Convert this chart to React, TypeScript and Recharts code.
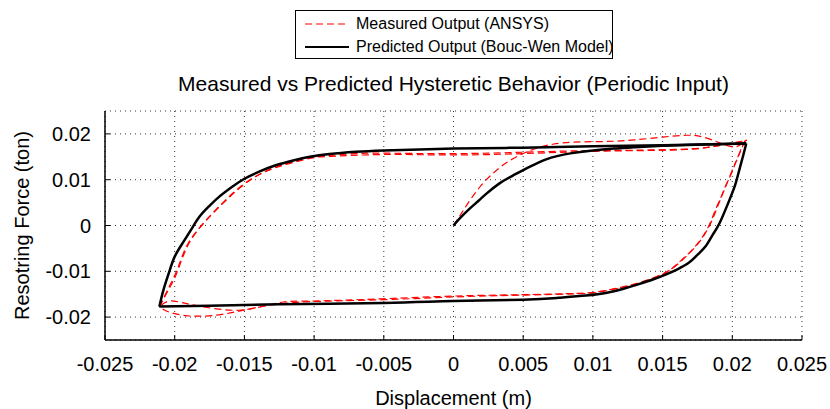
import React from 'react';
import { LineChart, Line, XAxis, YAxis, CartesianGrid, Legend } from 'recharts';

// ticks and labels
const xTicks = [-0.025, -0.02, -0.015, -0.01, -0.005, 0, 0.005, 0.01, 0.015, 0.02, 0.025];
const yTicks = [-0.02, -0.01, 0, 0.01, 0.02];
const chartTitle = 'Measured vs Predicted Hysteretic Behavior (Periodic Input)';
const xLabel = 'Displacement (m)';
const yLabel = 'Resotring Force (ton)';
const measuredName = 'Measured Output (ANSYS)';
const predictedName = 'Predicted Output (Bouc-Wen Model)';

// Predicted (Bouc-Wen) branches, [displacement, force]
const predictedLoading = [
  [0, 0], [0.0005, 0.0017], [0.0012, 0.0038], [0.0018, 0.0054], [0.0023, 0.0068], [0.0033, 0.0092],
  [0.0042, 0.0108], [0.005, 0.0121], [0.0058, 0.0133], [0.0066, 0.0144], [0.0075, 0.0152],
  [0.0085, 0.0158], [0.01, 0.0164], [0.0115, 0.0168], [0.013, 0.0171], [0.015, 0.0174],
  [0.018, 0.0177], [0.021, 0.0179],
];
const predictedUnloading = [
  [0.021, 0.0179], [0.0208, 0.0155], [0.0205, 0.0121], [0.0202, 0.0088], [0.0198, 0.0056],
  [0.0191, 0.0006], [0.0186, -0.002], [0.0181, -0.0045], [0.0175, -0.0064], [0.0169, -0.0081],
  [0.0161, -0.0095], [0.0153, -0.0106], [0.0143, -0.0118], [0.0133, -0.0128], [0.0122, -0.0138],
  [0.011, -0.0147], [0.0095, -0.0153], [0.0075, -0.0158], [0.005, -0.0162], [0, -0.0165],
  [-0.005, -0.0169], [-0.0125, -0.0172], [-0.0175, -0.0175], [-0.0211, -0.0177],
];
const predictedReloading = [
  [-0.0211, -0.0177], [-0.0208, -0.014], [-0.0204, -0.0102], [-0.02, -0.0068], [-0.0194, -0.0037],
  [-0.0188, -0.0008], [-0.0182, 0.002], [-0.0175, 0.0043], [-0.0168, 0.0063], [-0.0159, 0.0084],
  [-0.015, 0.0102], [-0.0139, 0.0118], [-0.0127, 0.0132], [-0.0115, 0.0142], [-0.0103, 0.015],
  [-0.0089, 0.0156], [-0.007, 0.0161], [-0.005, 0.0164], [0, 0.0168], [0.005, 0.017],
  [0.01, 0.0173], [0.015, 0.0175], [0.021, 0.0179],
];

// Measured (ANSYS) branches
const measuredInitial = [
  [0, 0], [0.0006, 0.0028], [0.0012, 0.0056], [0.002, 0.0088], [0.0028, 0.0113], [0.0036, 0.0133],
  [0.0044, 0.0148], [0.0052, 0.016], [0.0062, 0.0171], [0.0072, 0.0178], [0.0085, 0.0182],
  [0.01, 0.0183], [0.0115, 0.0184], [0.013, 0.0187], [0.015, 0.0193], [0.0167, 0.0197],
  [0.0178, 0.0194], [0.0188, 0.0184], [0.0196, 0.0175], [0.0203, 0.0172], [0.0209, 0.0185],
];
const measuredUnload1 = [
  [0.0209, 0.0185], [0.0206, 0.0163], [0.0203, 0.0143], [0.02, 0.0118], [0.0196, 0.0092],
  [0.0192, 0.0063], [0.0188, 0.0035], [0.0184, 0.0005], [0.0179, -0.0023], [0.0173, -0.0047],
  [0.0167, -0.0066], [0.016, -0.0085], [0.0153, -0.0102], [0.0143, -0.0115], [0.0133, -0.0125],
  [0.012, -0.0135], [0.0105, -0.0144], [0.009, -0.0148], [0.005, -0.0151], [0, -0.0154],
  [-0.0051, -0.016], [-0.0103, -0.0165], [-0.0122, -0.0167], [-0.0139, -0.0178], [-0.0154, -0.0185],
  [-0.017, -0.0182], [-0.0184, -0.0175], [-0.0194, -0.0169], [-0.0204, -0.0165], [-0.0211, -0.0178],
];
const measuredReload1 = [
  [-0.0211, -0.0178], [-0.0205, -0.014], [-0.0199, -0.0102], [-0.0195, -0.007], [-0.019, -0.0037],
  [-0.0183, -0.0008], [-0.0175, 0.002], [-0.0168, 0.0042], [-0.0161, 0.0063], [-0.0154, 0.0082],
  [-0.0146, 0.01], [-0.0137, 0.0115], [-0.0127, 0.0128], [-0.0115, 0.0139], [-0.0103, 0.0148],
  [-0.0089, 0.0153], [-0.007, 0.0157], [-0.0051, 0.0158], [0, 0.0157], [0.005, 0.016],
  [0.0088, 0.0163], [0.0119, 0.0164], [0.0167, 0.0167], [0.019, 0.0174], [0.0207, 0.0183],
  [0.021, 0.0187],
];
const measuredUnload2 = [
  [0.021, 0.0187], [0.0207, 0.0172], [0.0204, 0.0148], [0.0201, 0.0128], [0.0197, 0.0098],
  [0.0193, 0.0068], [0.0189, 0.0038], [0.0185, 0.0008], [0.018, -0.002], [0.0174, -0.0045],
  [0.0168, -0.0064], [0.0161, -0.0084], [0.0153, -0.0101], [0.0143, -0.0115], [0.0133, -0.0126],
  [0.012, -0.0136], [0.0105, -0.0145], [0.009, -0.0149], [0.005, -0.0152], [0, -0.0156],
  [-0.005, -0.0162], [-0.01, -0.0166], [-0.0127, -0.0172], [-0.0146, -0.0182], [-0.0166, -0.0194],
  [-0.0182, -0.0198], [-0.0194, -0.0196], [-0.0204, -0.0189], [-0.0211, -0.0178],
];
const measuredReload2 = [
  [-0.0211, -0.0178], [-0.0204, -0.0138], [-0.0198, -0.01], [-0.0189, -0.0035], [-0.0174, 0.0022],
  [-0.016, 0.0064], [-0.0145, 0.0101], [-0.0126, 0.0128], [-0.0102, 0.0147], [-0.0088, 0.0151],
  [-0.005, 0.0155], [0, 0.0154], [0.005, 0.0157], [0.0088, 0.0161], [0.0119, 0.0163],
  [0.0167, 0.0166], [0.019, 0.0175], [0.0207, 0.0184], [0.021, 0.0186],
];

const toPoints = (branch: number[][]) => branch.map(([x, y]) => ({ x, y }));

const measuredBranches = [measuredInitial, measuredUnload1, measuredReload1, measuredUnload2, measuredReload2].map(toPoints);
const predictedBranches = [predictedLoading, predictedUnloading, predictedReloading].map(toPoints);

const FONT = '"Liberation Sans", Arial, Helvetica, sans-serif';
const axisStroke = { stroke: '#000', strokeWidth: 1.5 };
const tickStyle = { fontSize: 20, fill: '#000', fontFamily: FONT };

const LegendBox = () => (
  <div
    style={{
      border: '1.5px solid #000',
      background: '#fff',
      fontFamily: FONT,
      fontSize: 16,
      width: 318,
      height: 49,
      boxSizing: 'border-box',
      padding: '0 0 0 9px',
      whiteSpace: 'nowrap',
      lineHeight: '22px',
    }}
  >
    <div style={{ display: 'flex', alignItems: 'center', height: 23, marginTop: 1 }}>
      <svg width={46} height={10} style={{ flex: 'none' }}>
        <line x1={0} y1={5} x2={44} y2={5} stroke="#ff0000" strokeWidth={1.2} strokeDasharray="7 4" />
      </svg>
      <span style={{ marginLeft: 5 }}>{measuredName}</span>
    </div>
    <div style={{ display: 'flex', alignItems: 'center', height: 23 }}>
      <svg width={46} height={10} style={{ flex: 'none' }}>
        <line x1={0} y1={5} x2={44} y2={5} stroke="#000" strokeWidth={2.2} />
      </svg>
      <span style={{ marginLeft: 5 }}>{predictedName}</span>
    </div>
  </div>
);

const App = () => {
  return (
    <div style={{ position: 'absolute', left: 0, top: 0, width: 830, height: 409, background: '#fff', fontFamily: FONT }}>
      <div
        style={{
          position: 'absolute',
          top: 70,
          left: 105,
          width: 697,
          textAlign: 'center',
          fontSize: 21,
          lineHeight: '28px',
          color: '#000',
        }}
      >
        {chartTitle}
      </div>
      <LineChart width={830} height={409} margin={{ top: 111, right: 28, bottom: 0, left: 0 }}>
        <CartesianGrid stroke="#333" strokeDasharray="1 4" />
        <XAxis
          dataKey="x"
          type="number"
          domain={[-0.025, 0.025]}
          ticks={xTicks}
          interval={0}
          height={69}
          axisLine={axisStroke}
          tickLine={{ stroke: '#000', strokeWidth: 1 }}
          tickSize={-5}
          tickMargin={22}
          tick={tickStyle}
          label={{ value: xLabel, position: 'insideBottom', offset: 4, style: { fontSize: 20, fill: '#000', fontFamily: FONT } }}
        />
        <XAxis
          xAxisId="top"
          orientation="top"
          type="number"
          domain={[-0.025, 0.025]}
          ticks={xTicks}
          interval={0}
          height={0}
          axisLine={axisStroke}
          tickLine={{ stroke: '#000', strokeWidth: 1 }}
          tickSize={-5}
          tick={false}
        />
        <YAxis
          type="number"
          domain={[-0.025, 0.025]}
          ticks={yTicks}
          interval={0}
          width={105}
          axisLine={axisStroke}
          tickLine={{ stroke: '#000', strokeWidth: 1 }}
          tickSize={-5}
          tickMargin={19}
          tick={tickStyle}
          label={{
            value: yLabel,
            angle: -90,
            position: 'insideLeft',
            offset: 22,
            style: { fontSize: 20, fill: '#000', fontFamily: FONT, textAnchor: 'middle' },
          }}
        />
        <YAxis
          yAxisId="right"
          orientation="right"
          type="number"
          domain={[-0.025, 0.025]}
          ticks={yTicks}
          interval={0}
          width={0}
          axisLine={axisStroke}
          tickLine={{ stroke: '#000', strokeWidth: 1 }}
          tickSize={-5}
          tick={false}
        />
        <Legend
          layout="vertical"
          align="center"
          verticalAlign="middle"
          wrapperStyle={{ top: 10, left: 295, width: 318, height: 49 }}
          content={() => <LegendBox />}
        />
        {measuredBranches.map((branch, i) => (
          <Line
            key={`m${i}`}
            data={branch}
            dataKey="y"
            type="natural"
            stroke="#ff0000"
            strokeWidth={1.2}
            strokeDasharray="7 4"
            dot={false}
            activeDot={false}
            isAnimationActive={false}
            name={measuredName}
            legendType="none"
          />
        ))}
        {predictedBranches.map((branch, i) => (
          <Line
            key={`p${i}`}
            data={branch}
            dataKey="y"
            type="natural"
            stroke="#000"
            strokeWidth={2.5}
            dot={false}
            activeDot={false}
            isAnimationActive={false}
            name={predictedName}
            legendType="none"
          />
        ))}
      </LineChart>
    </div>
  );
};

export default App;
